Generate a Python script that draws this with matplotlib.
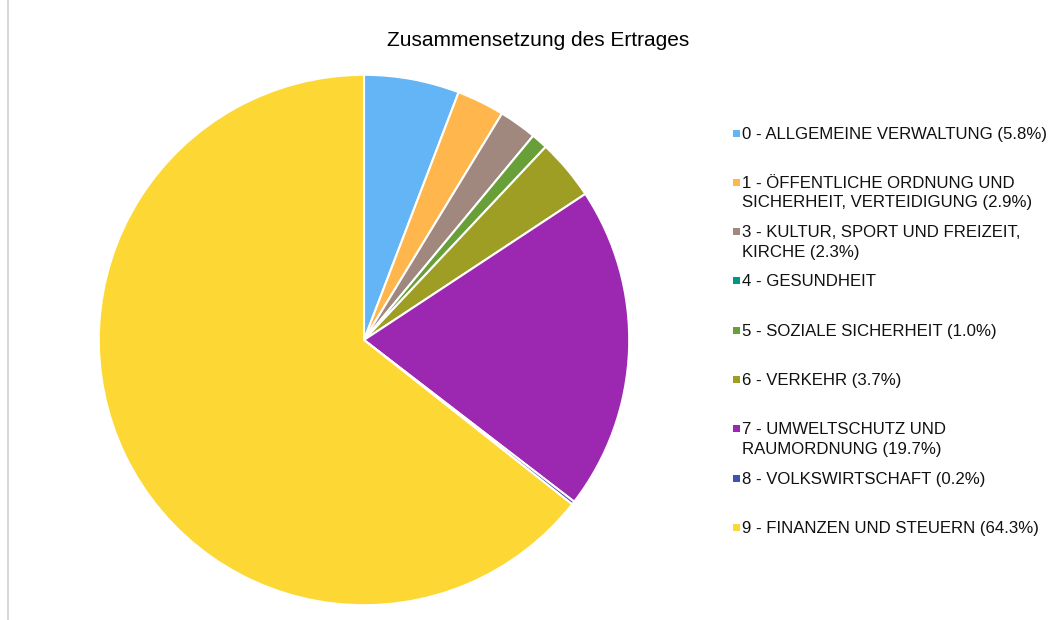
import matplotlib
matplotlib.use("Agg")
import matplotlib.pyplot as plt
from matplotlib.lines import Line2D

plt.rcParams['font.family'] = ['Liberation Sans', 'DejaVu Sans']

title = "Zusammensetzung des Ertrages"
labels = [
    "0 - ALLGEMEINE VERWALTUNG (5.8%)",
    "1 - ÖFFENTLICHE ORDNUNG UND\nSICHERHEIT, VERTEIDIGUNG (2.9%)",
    "3 - KULTUR, SPORT UND FREIZEIT,\nKIRCHE (2.3%)",
    "4 - GESUNDHEIT",
    "5 - SOZIALE SICHERHEIT (1.0%)",
    "6 - VERKEHR (3.7%)",
    "7 - UMWELTSCHUTZ UND\nRAUMORDNUNG (19.7%)",
    "8 - VOLKSWIRTSCHAFT (0.2%)",
    "9 - FINANZEN UND STEUERN (64.3%)",
]
values = [5.8, 2.9, 2.3, 0.0, 1.0, 3.7, 19.7, 0.2, 64.3]
colors = ["#64B5F6", "#FFB74D", "#A1887F", "#009688", "#689F38",
          "#9E9D24", "#9C27B0", "#3F51B5", "#FDD835"]

W, H = 1059, 620
fig = plt.figure(figsize=(W / 100, H / 100), dpi=100)

cx, cy, r = 364, 340, 266
ax = fig.add_axes([(cx - r) / W, (H - cy - r) / H, 2 * r / W, 2 * r / H])
pv = [v for v in values if v > 0]
pc = [c for v, c in zip(values, colors) if v > 0]
ax.pie(pv, colors=pc, startangle=90, counterclock=False, radius=1,
       wedgeprops=dict(edgecolor="white", linewidth=1.5))
ax.set_xlim(-1.003, 1.003)
ax.set_ylim(-1.003, 1.003)
ax.set_aspect("equal")
ax.axis("off")

fig.text(538 / W, 1 - 40 / H, title, ha="center", va="center", fontsize=15, color="#000000")

# legend
y0 = 133
step = 49.3
for i, (lab, col) in enumerate(zip(labels, colors)):
    y = y0 + i * step
    fig.patches.append(plt.Rectangle(((733) / W, 1 - (y + 3.5) / H), 7 / W, 7 / H,
                                     transform=fig.transFigure, facecolor=col,
                                     edgecolor="none"))
    fig.text(742.5 / W, 1 - (y - 6.5) / H, lab, ha="left", va="top", fontsize=12.1,
             color="#111111", linespacing=1.38)

# left border line
fig.add_artist(Line2D([7.5 / W, 7.5 / W], [0, 1], transform=fig.transFigure,
                      color="#d9d9d9", linewidth=1.5))

fig.savefig("out.png", dpi=100)
